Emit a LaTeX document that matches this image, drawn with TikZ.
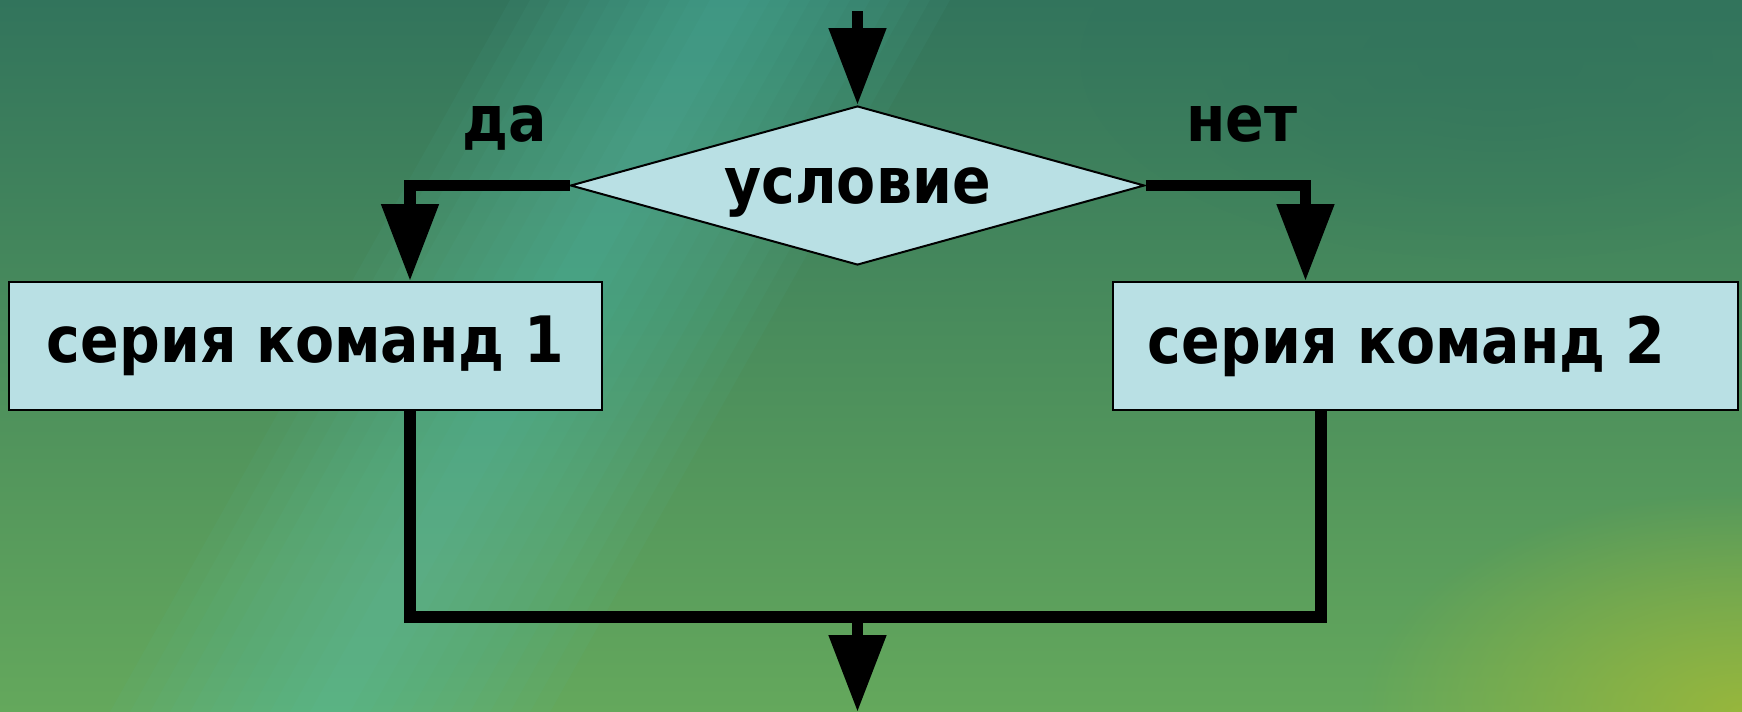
\documentclass[tikz,border=0pt]{standalone}
\usepackage{fontspec}
\setmainfont{DejaVu Sans}[FakeStretch=0.89]
\usetikzlibrary{shapes.geometric,arrows.meta,fadings}
\definecolor{boxfill}{RGB}{185,224,228}
\definecolor{bgtop}{RGB}{50,116,92}
\definecolor{bgbottom}{RGB}{100,168,92}
\definecolor{streak}{RGB}{90,200,185}
\definecolor{glow}{RGB}{160,185,55}
\tikzfading[name=softglow, inner color=transparent!0, outer color=transparent!100]
\tikzstyle{block}=[rectangle, draw=black, line width=1pt, fill=boxfill,
minimum width=296.5pt, minimum height=64pt, inner sep=0pt,
font=\fontsize{32}{38}\selectfont\bfseries]
\tikzstyle{decision}=[diamond, draw=black, line width=1pt, fill=boxfill,
minimum width=287pt, minimum height=79.5pt, aspect=3.6, inner sep=0pt,
text depth=0pt, font=\fontsize{32}{38}\selectfont\bfseries]
\tikzstyle{answer}=[anchor=base, inner sep=0pt, font=\fontsize{32}{38}\selectfont\bfseries]
\tikzstyle{link}=[line width=5.75pt]
\tikzstyle{flow}=[link, -{Triangle[length=38.5pt,width=27.5pt]}]

\begin{document}
\begin{tikzpicture}[x=0.5pt,y=-0.5pt]
\useasboundingbox (0,0) rectangle (1742,712);
% background
\shade[top color=bgtop, bottom color=bgbottom] (0,0) rectangle (1742,712);
\foreach \w in {40,80,...,440}
  \fill[streak, opacity=0.055] (730-\w/2,0) -- (730+\w/2,0) -- (330+\w/2,712) -- (330-\w/2,712) -- cycle;
\fill[glow, path fading=softglow, opacity=0.85] (1742,712) ellipse (380 and 220);
\fill[bgtop, path fading=softglow, opacity=0.5] (1500,60) ellipse (420 and 200);

\node[decision](cond) at (857.5,185.5) {условие};
\node[block](series1) at (305.5,346) {серия команд 1};
\node[block, minimum width=312.5pt](series2) at (1425.5,346) {серия команд 2\hspace*{19pt}};
\node[answer](yes) at (505,141) {да};
\node[answer](no) at (1242,141) {нет};
\coordinate (start) at (857.5,11);
\coordinate (merge) at (857.5,617);
\coordinate (finish) at (857.5,712);

\draw [flow](start) -- (cond.north);
\draw [flow](cond.west) -| ([xshift=52.25pt]series1.north);
\draw [flow](cond.east) -| ([xshift=-60pt]series2.north);
\draw [link](series1.south) ++(52.25pt,0) |- (merge) -| ([xshift=-52.25pt]series2.south);
\draw [flow](merge) -- (finish);
\end{tikzpicture}
\end{document}
